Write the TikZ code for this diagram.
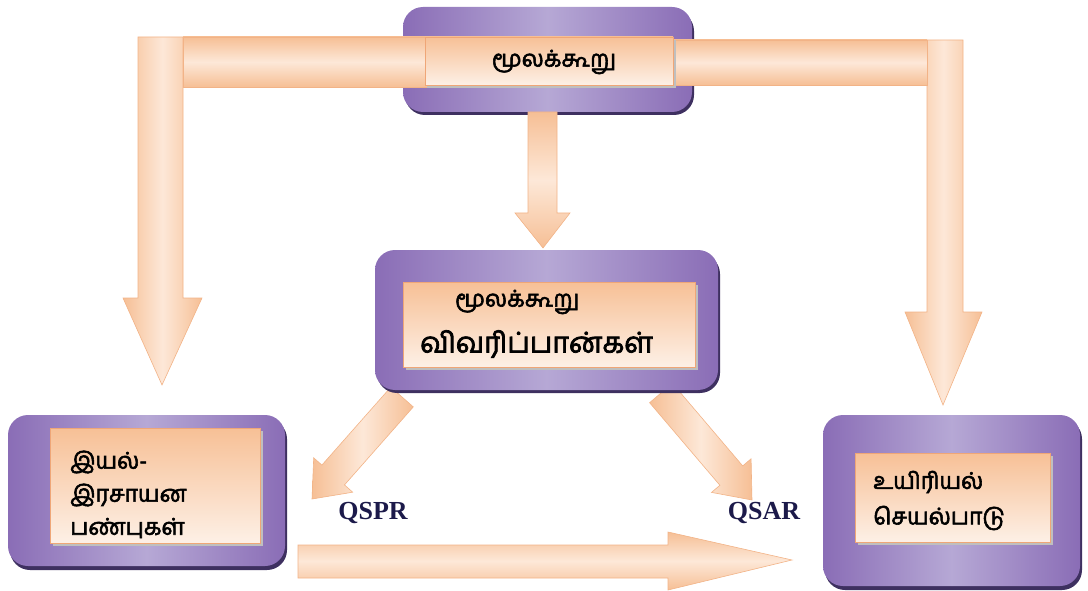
\documentclass[tikz,border=0pt]{standalone}
\usepackage{fontspec}
\newfontfamily\tamil[Script=Tamil, FakeBold=2.5]{Hind Madurai}
\setmainfont{Liberation Serif}
\usetikzlibrary{shadings}
\definecolor{purpA}{HTML}{8A6DB6}
\definecolor{purpB}{HTML}{B6A8D5}
\definecolor{purpS}{HTML}{3E3060}
\definecolor{peachA}{HTML}{F7C096}
\definecolor{peachB}{HTML}{FDF0E6}
\definecolor{peachE}{HTML}{EFA677}
\definecolor{arrA}{HTML}{F6BF95}
\definecolor{arrB}{HTML}{FDE8D8}
\definecolor{arrE}{HTML}{F2B387}
\definecolor{qtext}{HTML}{1C1A4A}
\tikzset{
  pbox/.style={rounded corners=20pt, left color=purpA, right color=purpA, middle color=purpB},
  pshadow/.style={rounded corners=20pt, fill=purpS},
  inbox/.style={draw=peachE, line width=0.8pt, shading=axis, shading angle=30, top color=peachA, bottom color=peachB},
  inshadow/.style={fill=black!25},
  fatarrow/.style={draw=arrE, line width=0.6pt, left color=arrA, right color=arrA, middle color=arrB},
  fatarrowv/.style={draw=arrE, line width=0.6pt, top color=arrA, bottom color=arrA, middle color=arrB},
  tam/.style={font=\tamil\fontsize{23}{26}\selectfont, text=black, inner sep=0pt},
  tambig/.style={font=\tamil\fontsize{28.5}{31}\selectfont, text=black, inner sep=0pt},
  qlab/.style={font=\bfseries\fontsize{26}{28}\selectfont, text=qtext, inner sep=0pt}
}
\begin{document}
\begin{tikzpicture}[x=1pt,y=-1pt]
\useasboundingbox (0,0) rectangle (1088,591);
% vertical arrows of the T
\path[fatarrow] (138,37) -- (183,37) -- (183,298) -- (202,298) -- (162,385) -- (123,298) -- (138,298) -- cycle;
\path[fatarrow] (927,40) -- (963,40) -- (963,312) -- (982,312) -- (943,405) -- (905,312) -- (927,312) -- cycle;
% diagonal arrows
\path[fatarrow] (413.3,406.9) -- (344.5,484.9) -- (352.7,492.2) -- (312,499) -- (313.7,457.8) -- (321.9,465.1) -- (390.8,387.1) -- cycle;
\path[fatarrow] (672.4,383.3) -- (742.7,465.9) -- (751.1,458.8) -- (752,500) -- (711.5,492.4) -- (719.9,485.3) -- (649.6,402.7) -- cycle;
% bottom arrow
\path[fatarrowv] (298,545) -- (668,545) -- (668,532) -- (792,560) -- (668,590) -- (668,578) -- (298,578) -- cycle;
% top box
\path[pshadow] (405,11) rectangle (694,115);
\path[pbox] (403,7) rectangle (692,112);
\node (top) at (547.5,59.5) {};
% horizontal bars of the T
\path[fatarrowv] (183,37) rectangle (430,87);
\path[fatarrowv] (673,40) rectangle (927,85);
\path[inshadow] (427,40) rectangle (676,88);
\path[inbox] (425,37) rectangle (673,85);
\node[tam] (toptext) at (554,62) {மூலக்கூறு};
% center down arrow
\path[fatarrowv] (528,112) -- (557,112) -- (557,213) -- (570,213) -- (543,248) -- (515,213) -- (528,213) -- cycle;
% center box
\path[pshadow] (377,254) rectangle (720,393);
\path[pbox] (375,250) rectangle (718,390);
\path[inshadow] (406,285) rectangle (698,370);
\path[inbox] (403,282) rectangle (695,367);
\node[tam, anchor=west] (c1) at (455,302) {மூலக்கூறு};
\node[tambig, anchor=west] (c2) at (420,344) {விவரிப்பான்கள்};
% left box
\path[pshadow] (10,419) rectangle (287,570);
\path[pbox] (8,415) rectangle (285,566);
\path[inshadow] (53,431) rectangle (263,546);
\path[inbox] (50,428) rectangle (260,543);
\node[tam, anchor=west] (l1) at (70,462) {இயல்-};
\node[tam, anchor=west] (l2) at (70,495) {இரசாயன};
\node[tam, anchor=west] (l3) at (70,528) {பண்புகள்};
% right box
\path[pshadow] (825,419) rectangle (1082,590);
\path[pbox] (823,415) rectangle (1080,586);
\path[inshadow] (858,456) rectangle (1053,545);
\path[inbox] (855,453) rectangle (1050,542);
\node[tam, anchor=west] (r1) at (873,482) {உயிரியல்};
\node[tam, anchor=west] (r2) at (873,518) {செயல்பாடு};
% labels
\node[qlab] (qspr) at (373,513) {QSPR};
\node[qlab] (qsar) at (764,513) {QSAR};
\end{tikzpicture}
\end{document}
